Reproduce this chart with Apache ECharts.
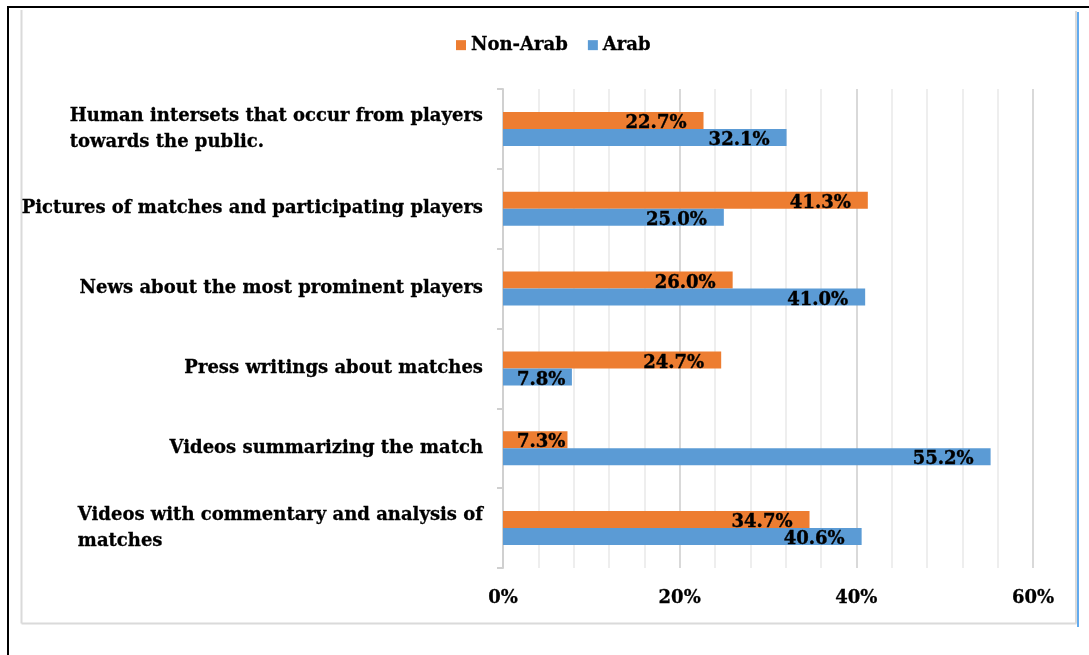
<!DOCTYPE html>
<html>
<head>
<meta charset="utf-8">
<style>
  html, body { margin: 0; padding: 0; background: #ffffff; }
  #chart { width: 1089px; height: 655px; }
</style>
<script src="https://cdn.jsdelivr.net/npm/echarts@6/dist/echarts.min.js"></script>
</head>
<body>
<div id="chart"></div>
<script>
// Categories listed top to bottom
const categories = [
  'Human intersets that occur from players\ntowards the public.',
  'Pictures of matches and participating players',
  'News about the most prominent players',
  'Press writings about matches',
  'Videos summarizing the match',
  'Videos with commentary and analysis of\nmatches'
];
const seriesNames = ['Non-Arab', 'Arab'];
const nonArab = [22.7, 41.3, 26.0, 24.7, 7.3, 34.7];
const arab = [32.1, 25.0, 41.0, 7.8, 55.2, 40.6];
const xTicks = [0, 20, 40, 60];

const SERIF = '"DejaVu Serif", "Liberation Serif", serif';
const colors = ['#ED7D31', '#5B9BD5'];
const INK = '#000';

function valueLabels(values) {
  return values.map(function (v) {
    // short bars keep their label anchored near the start of the bar
    if (v < 10) {
      return { value: v, label: { position: 'insideLeft', distance: 14 } };
    }
    return v;
  });
}

function barSeries(name, values, color) {
  return {
    name: name,
    type: 'bar',
    barWidth: 17,
    barGap: '0%',
    itemStyle: { color: color },
    label: {
      show: true,
      position: 'insideRight',
      distance: 17,
      offset: [0, 3],
      color: INK,
      fontFamily: SERIF,
      fontWeight: 'bold',
      fontSize: 18,
      textBorderColor: INK,
      textBorderWidth: 0.4,
      formatter: function (p) { return p.value.toFixed(1) + '%'; }
    },
    data: valueLabels(values)
  };
}

const chart = echarts.init(document.getElementById('chart'), null, { renderer: 'canvas' });

chart.setOption({
  animation: false,
  backgroundColor: '#ffffff',
  legend: {
    data: seriesNames,
    top: 31,
    left: 451,
    itemWidth: 10,
    itemHeight: 10,
    itemGap: 20,
    icon: 'rect',
    textStyle: { fontFamily: SERIF, fontWeight: 'bold', fontSize: 18, color: INK, textBorderColor: INK, textBorderWidth: 0.3 }
  },
  grid: { left: 503, right: 56, top: 89, bottom: 87, containLabel: false },
  xAxis: {
    type: 'value',
    min: xTicks[0],
    max: xTicks[xTicks.length - 1],
    interval: 20,
    axisLine: { show: false },
    axisTick: { show: false },
    axisLabel: {
      margin: 21,
      color: INK,
      fontFamily: SERIF,
      fontWeight: 'bold',
      fontSize: 18,
      textBorderColor: INK,
      textBorderWidth: 0.3,
      formatter: function (v) { return v + '%'; }
    },
    splitLine: { show: true, lineStyle: { color: '#d9d9d9', width: 2 } },
    minorTick: { show: false, splitNumber: 5 },
    minorSplitLine: { show: true, lineStyle: { color: '#eeeeee', width: 2 } }
  },
  yAxis: {
    type: 'category',
    inverse: true,
    data: categories,
    axisLine: { show: true, lineStyle: { color: '#d0d0d0', width: 2 } },
    axisTick: { show: true, length: 6, lineStyle: { color: '#d0d0d0', width: 2 } },
    axisLabel: {
      margin: 20,
      align: 'right',
      fontFamily: SERIF,
      fontWeight: 'bold',
      fontSize: 18,
      color: INK,
      lineHeight: 26,
      formatter: function (v) {
        return v.split('\n').map(function (s) { return '{l|' + s + '}'; }).join('\n');
      },
      rich: {
        l: {
          align: 'left', fontFamily: SERIF, fontWeight: 'bold', fontSize: 18, color: INK,
          lineHeight: 26, textBorderColor: INK, textBorderWidth: 0.3
        }
      }
    }
  },
  graphic: [
    // outer document border
    { type: 'line', silent: true, shape: { x1: 7, y1: 7, x2: 1089, y2: 7 }, style: { stroke: '#000', lineWidth: 2 } },
    { type: 'line', silent: true, shape: { x1: 8, y1: 6, x2: 8, y2: 655 }, style: { stroke: '#000', lineWidth: 2 } },
    // chart area frame
    { type: 'line', silent: true, shape: { x1: 21.5, y1: 10, x2: 21.5, y2: 623.5 }, style: { stroke: '#dadada', lineWidth: 2 } },
    { type: 'line', silent: true, shape: { x1: 21.5, y1: 623.5, x2: 1076.5, y2: 623.5 }, style: { stroke: '#dadada', lineWidth: 2 } },
    { type: 'line', silent: true, shape: { x1: 1076, y1: 11, x2: 1076, y2: 623.5 }, style: { stroke: '#dadada', lineWidth: 2 } },
    { type: 'line', silent: true, shape: { x1: 1078, y1: 12, x2: 1078, y2: 627 }, style: { stroke: '#2f8fe8', lineWidth: 1.5 } }
  ],
  series: [
    barSeries(seriesNames[0], nonArab, colors[0]),
    barSeries(seriesNames[1], arab, colors[1])
  ]
});
</script>
</body>
</html>
